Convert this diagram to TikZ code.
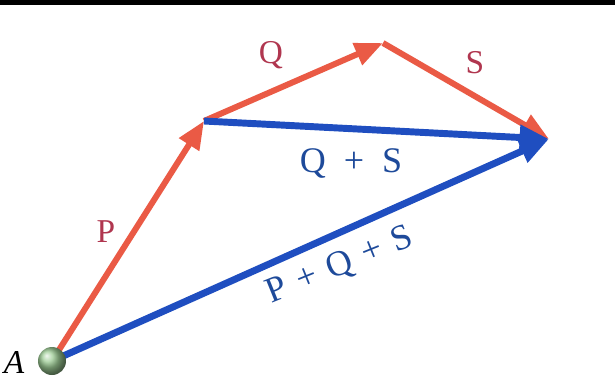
\documentclass[tikz,border=0pt]{standalone}
\usepackage{fontspec}
\setmainfont{Liberation Serif}
\usetikzlibrary{arrows.meta}
\definecolor{vred}{HTML}{EA5A45}
\definecolor{vblue}{HTML}{1F4EC0}
\definecolor{tred}{HTML}{B0364F}
\definecolor{tblue}{HTML}{1E4A9A}
\definecolor{ballg}{HTML}{9CCB94}
\begin{document}
\begin{tikzpicture}[x=0.75pt,y=-0.75pt,
  redvec/.style={draw=vred,line width=4.5pt,-{Triangle[length=21pt,width=17pt]}},
  bluevec/.style={draw=vblue,line width=5.2pt,-{Triangle[length=22pt,width=18pt]}},
  redlbl/.style={text=tred,font=\fontsize{25}{25}\selectfont,inner sep=0pt},
  bluelbl/.style={text=tblue,font=\fontsize{27}{27}\selectfont,inner sep=0pt}]
\useasboundingbox (0,0) rectangle (615,380);
\fill[black] (0,0) rectangle (615,5);
\coordinate (A) at (52,361);
\coordinate (B) at (204,121);
\coordinate (C) at (383,43);
\coordinate (D) at (549,139);
\draw[redvec] (A) -- (B);
\draw[redvec] (B) -- (C);
\draw[redvec] (C) -- (D);
\draw[bluevec] (B) -- (D);
\draw[bluevec] (A) -- (D);
\node[circle,minimum size=21pt,inner sep=0pt,ball color=ballg] (dot) at (A) {};
\node[inner sep=0pt,font=\fontsize{25}{25}\selectfont\itshape] (lA) at (14,362) {A};
\node[redlbl] (lP) at (106,232) {P};
\node[redlbl] (lQ) at (271,55) {Q};
\node[redlbl] (lS) at (475,63) {S};
\node[bluelbl] (lQS) at (351,163) {Q\,\,\,+\,\,\,S};
\node[bluelbl,rotate=22] (lPQS) at (340,266) {P\,\,+\,\,Q\,\,+\,\,S};
\end{tikzpicture}
\end{document}
